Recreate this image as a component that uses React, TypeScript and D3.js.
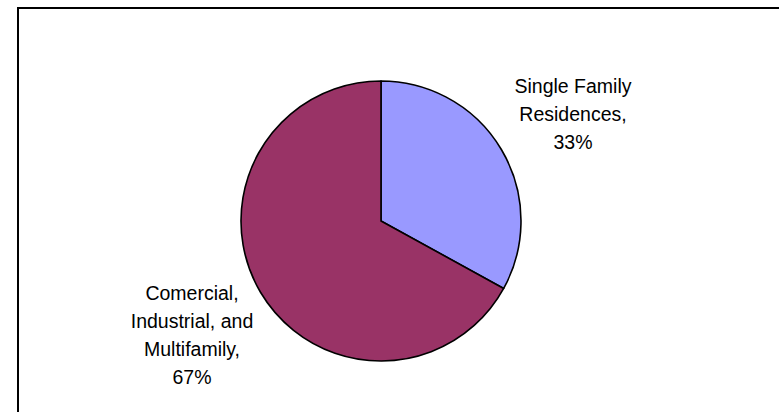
import React from "react";
import * as d3 from "d3";

const categories = ["Single Family Residences", "Comercial, Industrial, and Multifamily"];
const shares = [33, 67];
const sliceColors = ["#9999FF", "#993366"];
const labelLines = [
  ["Single Family", "Residences,", "33%"],
  ["Comercial,", "Industrial, and", "Multifamily,", "67%"],
];

const W = 779;
const H = 412;
const cx = 381;
const cy = 221;
const radius = 140;

export default function App() {
  const pie = d3
    .pie<number>()
    .sort(null)
    .value((d) => d);
  const arcs = pie(shares);
  const arcGen = d3
    .arc<d3.PieArcDatum<number>>()
    .innerRadius(0)
    .outerRadius(radius);

  // label anchor points (center x, first baseline y)
  const labelPos = [
    { x: 573, y: 93 },
    { x: 192, y: 300 },
  ];
  const lineH = 28;

  return (
    <svg
      width={W}
      height={H}
      style={{ position: "absolute", left: 0, top: 0, background: "#fff" }}
      fontFamily="'Liberation Sans', Arial, sans-serif"
    >
      <rect x={18} y={8} width={W + 20} height={H + 20} fill="#fff" stroke="#000" strokeWidth={2} />
      <g transform={`translate(${cx},${cy})`}>
        {arcs.map((a, i) => (
          <path
            key={categories[i]}
            d={arcGen(a) || ""}
            fill={sliceColors[i]}
            stroke="#000"
            strokeWidth={1.6}
            strokeLinejoin="round"
          />
        ))}
      </g>
      {labelLines.map((lines, i) => (
        <text key={categories[i]} textAnchor="middle" fontSize={19.5} fill="#000">
          {lines.map((t, j) => (
            <tspan key={j} x={labelPos[i].x} y={labelPos[i].y + j * lineH}>
              {t}
            </tspan>
          ))}
        </text>
      ))}
    </svg>
  );
}
